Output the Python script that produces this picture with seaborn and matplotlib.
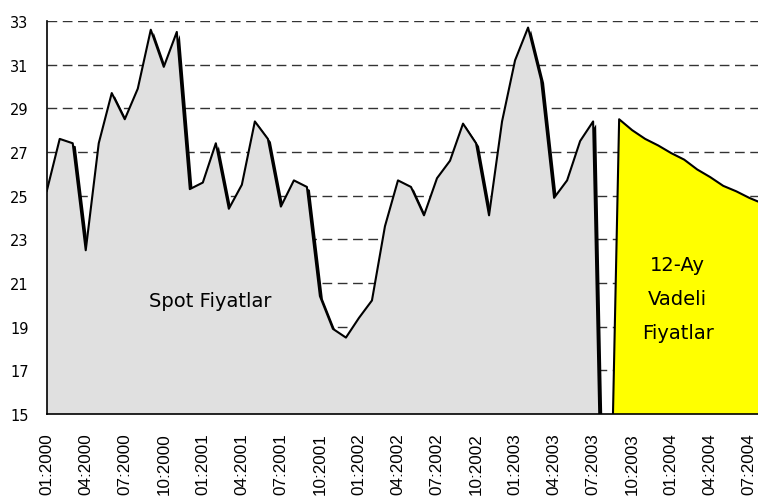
import numpy as np
import pandas as pd
import matplotlib
matplotlib.use("Agg")
import matplotlib.pyplot as plt
import matplotlib.transforms as mtransforms
import seaborn as sns

# ------------------------------
# Data (monthly, 01:2000 = month 0)
# ------------------------------
spot_prices = [25.2, 27.6, 27.4, 22.5, 27.4, 29.7, 28.5, 29.9, 32.6, 30.9,
               32.5, 25.3, 25.6, 27.4, 24.4, 25.5, 28.4, 27.6, 24.5, 25.7,
               25.4, 20.4, 18.9, 18.5, 19.4, 20.2, 23.6, 25.7, 25.4, 24.1,
               25.8, 26.6, 28.3, 27.4, 24.1, 28.4, 31.2, 32.7, 30.3, 24.9,
               25.7, 27.5, 28.4, 0.0]
forward_prices = [0.0, 28.5, 28.0, 27.6, 27.3, 26.95, 26.65, 26.2, 25.85,
                  25.45, 25.2, 24.9, 24.65]
tick_labels = ["01:2000", "04:2000", "07:2000", "10:2000",
               "01:2001", "04:2001", "07:2001", "10:2001",
               "01:2002", "04:2002", "07:2002", "10:2002",
               "01:2003", "04:2003", "07:2003", "10:2003",
               "01:2004", "04:2004", "07:2004"]
y_ticks = [15, 17, 19, 21, 23, 25, 27, 29, 31, 33]

spot = pd.DataFrame({"month": np.arange(len(spot_prices)), "price": spot_prices})
fwd = pd.DataFrame({"month": np.arange(len(spot_prices) - 1,
                                       len(spot_prices) - 1 + len(forward_prices)),
                    "price": forward_prices})

# ------------------------------
# Figure
# ------------------------------
sns.set_style("white")
plt.rcParams["font.family"] = ["DejaVu Sans"]
plt.rcParams["text.color"] = "black"
plt.rcParams["xtick.color"] = "black"
plt.rcParams["ytick.color"] = "black"

fig = plt.figure(figsize=(7.58, 5.02), dpi=100)
ax = fig.add_axes([46.7 / 758, 87 / 502, 1 - 46.7 / 758, 393 / 502])

# shadow of the areas (offset right/down like Excel)
shadow = mtransforms.offset_copy(ax.transData, fig=fig, x=3, y=-3, units="dots")
for df in (spot, fwd):
    ax.fill_between(df["month"], 0, df["price"], color="black", lw=0,
                    transform=shadow, zorder=2)

ax.fill_between(spot["month"], 0, spot["price"], color="#E0E0E0", lw=0, zorder=3)
ax.fill_between(fwd["month"], 0, fwd["price"], color="#FFFF00", lw=0, zorder=3)

sns.lineplot(data=spot, x="month", y="price", color="black", lw=1.5, ax=ax, zorder=4)
sns.lineplot(data=fwd, x="month", y="price", color="black", lw=1.5, ax=ax, zorder=4)

for y in y_ticks[1:]:
    ax.axhline(y, color="#333333", lw=1, ls=(0, (7, 4)), zorder=1)

ax.set_xlim(0, (758 - 46.7) / 13.01)
ax.set_ylim(15, 33)
ax.set_xticks(np.arange(0, 3 * len(tick_labels), 3))
ax.set_xticklabels(tick_labels, rotation=90, family="Liberation Sans", fontsize=12.3)
ax.set_yticks(y_ticks)
ax.set_yticklabels([str(v) for v in y_ticks], fontsize=10.5)
ax.tick_params(axis="x", direction="out", length=5, width=1, pad=8)
ax.tick_params(axis="y", direction="out", length=5, width=1, pad=8)
ax.set_xlabel("")
ax.set_ylabel("")

for side in ["top", "right"]:
    ax.spines[side].set_visible(False)
for side in ["left", "bottom"]:
    ax.spines[side].set_color("black")
    ax.spines[side].set_linewidth(1.2)
    ax.spines[side].set_zorder(5)

ax.text(12.6, 20.2, "Spot Fiyatlar", ha="center", va="center", fontsize=14, zorder=6)
ax.text(48.5, 20.3, "12-Ay\nVadeli\nFiyatlar", ha="center", va="center",
        fontsize=14, linespacing=2.0, zorder=6)

fig.savefig("out.png", dpi=100)
